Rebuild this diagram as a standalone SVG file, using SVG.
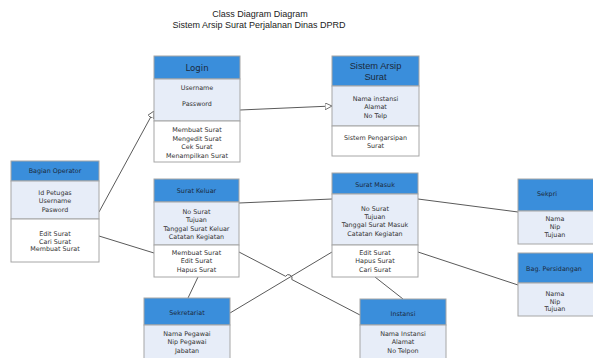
<svg xmlns="http://www.w3.org/2000/svg" width="593" height="358" viewBox="0 0 593 358">
<style>
.hd{fill:#3a8edb;stroke:#a6a6a6;stroke-width:1}
.at{fill:#e7edf8;stroke:#a6a6a6;stroke-width:1}
.op{fill:#ffffff;stroke:#a6a6a6;stroke-width:1}
text{font-family:"DejaVu Sans",Verdana,sans-serif;font-size:6.4px;fill:#333333;text-anchor:middle}
.ht{fill:#1b2a3c}
.big{font-size:8.6px}
.ar{font-family:"Liberation Sans",Arial,sans-serif;font-size:9.3px}
.title{font-family:"Liberation Sans",Arial,sans-serif;font-size:9px;fill:#222}
.ln{fill:none;stroke:#5a5a5a;stroke-width:1}
</style>
<defs>
<marker id="tri" viewBox="0 0 10 10" refX="10" refY="5" markerWidth="7" markerHeight="7" orient="auto" markerUnits="userSpaceOnUse">
<path d="M0,0 L10,5 L0,10 Z" fill="#ffffff" stroke="#5a5a5a" stroke-width="1.2"/>
</marker>
</defs>
<rect width="593" height="358" fill="#ffffff"/>
<text class="title" x="260" y="17">Class Diagram Diagram</text>
<text class="title" x="259" y="28">Sistem Arsip Surat Perjalanan Dinas DPRD</text>

<g id="connectors">
<line class="ln" x1="99" y1="212" x2="154" y2="111" marker-end="url(#tri)"/>
<line class="ln" x1="240" y1="110" x2="332" y2="106" marker-end="url(#tri)"/>
<line class="ln" x1="239" y1="203" x2="332" y2="199"/>
<line class="ln" x1="99" y1="236" x2="154" y2="253"/>
<path class="ln" d="M239,252 L285.6,276.3 A3.5,3.5 0 0 1 291.8,279.5 L360,315"/>
<line class="ln" x1="198" y1="277" x2="188" y2="298"/>
<line class="ln" x1="230" y1="313" x2="332" y2="252"/>
<line class="ln" x1="375" y1="277" x2="403" y2="299"/>
<line class="ln" x1="418" y1="199" x2="518" y2="212"/>
<line class="ln" x1="418" y1="252" x2="518" y2="285"/>
</g>

<g id="login">
<rect class="hd" x="154" y="56" width="86" height="23"/>
<rect class="at" x="154" y="79" width="86" height="42"/>
<rect class="op" x="154" y="121" width="86" height="41"/>
<text class="ht big" x="197" y="71">Login</text>
<text x="197" y="90">Username</text>
<text x="197" y="106">Password</text>
<text x="197" y="132">Membuat Surat</text>
<text x="197" y="140.5">Mengedit Surat</text>
<text x="197" y="149">Cek Surat</text>
<text x="197" y="157.5">Menampilkan Surat</text>
</g>

<g id="sistem-arsip-surat">
<rect class="hd" x="332" y="56" width="87" height="30"/>
<rect class="at" x="332" y="86" width="87" height="40"/>
<rect class="op" x="332" y="126" width="87" height="30"/>
<text class="ht ar" x="375.5" y="69">Sistem Arsip</text>
<text class="ht ar" x="375.5" y="79.5">Surat</text>
<text x="375.5" y="100.5">Nama instansi</text>
<text x="375.5" y="109">Alamat</text>
<text x="375.5" y="117.5">No Telp</text>
<text x="375.5" y="139.5">Sistem Pengarsipan</text>
<text x="375.5" y="148">Surat</text>
</g>

<g id="bagian-operator">
<rect class="hd" x="11" y="161" width="88" height="20"/>
<rect class="at" x="11" y="181" width="88" height="38"/>
<rect class="op" x="11" y="219" width="88" height="43"/>
<text class="ht" x="55" y="172.5">Bagian Operator</text>
<text x="55" y="194.5">Id Petugas</text>
<text x="55" y="203">Username</text>
<text x="55" y="211.5">Pasword</text>
<text x="55" y="235.5">Edit Surat</text>
<text x="55" y="243.5">Cari Surat</text>
<text x="55" y="251">Membuat Surat</text>
</g>

<g id="surat-keluar">
<rect class="hd" x="154" y="179" width="85" height="23"/>
<rect class="at" x="154" y="202" width="85" height="43"/>
<rect class="op" x="154" y="245" width="85" height="32"/>
<text class="ht" x="196.5" y="192.5">Surat Keluar</text>
<text x="196.5" y="213.5">No Surat</text>
<text x="196.5" y="222">Tujuan</text>
<text x="196.5" y="230.5">Tanggal Surat Keluar</text>
<text x="196.5" y="239">Catatan Kegiatan</text>
<text x="196.5" y="254.5">Membuat Surat</text>
<text x="196.5" y="263">Edit Surat</text>
<text x="196.5" y="271.5">Hapus Surat</text>
</g>

<g id="surat-masuk">
<rect class="hd" x="332" y="173" width="86" height="21"/>
<rect class="at" x="332" y="194" width="86" height="51"/>
<rect class="op" x="332" y="245" width="86" height="32"/>
<text class="ht" x="375" y="187">Surat Masuk</text>
<text x="375" y="210.5">No Surat</text>
<text x="375" y="219">Tujuan</text>
<text x="375" y="227">Tanggal Surat Masuk</text>
<text x="375" y="235.5">Catatan Kegiatan</text>
<text x="375" y="254.5">Edit Surat</text>
<text x="375" y="263">Hapus Surat</text>
<text x="375" y="271.5">Cari Surat</text>
</g>

<g id="sekpri">
<rect class="hd" x="518" y="179" width="80" height="32"/>
<rect class="at" x="518" y="211" width="80" height="33"/>
<text class="ht" x="547" y="195.5">Sekpri</text>
<text x="555" y="220.5">Nama</text>
<text x="555" y="229">Nip</text>
<text x="555" y="237">Tujuan</text>
</g>

<g id="bag-persidangan">
<rect class="hd" x="518" y="253" width="80" height="30"/>
<rect class="at" x="518" y="283" width="80" height="33"/>
<text class="ht" x="554" y="271">Bag. Persidangan</text>
<text x="555" y="295.5">Nama</text>
<text x="555" y="303.5">Nip</text>
<text x="555" y="311">Tujuan</text>
</g>

<g id="sekretariat">
<rect class="hd" x="144" y="298" width="86" height="27"/>
<rect class="at" x="144" y="325" width="86" height="40"/>
<text class="ht" x="187" y="315">Sekretariat</text>
<text x="187" y="335.5">Nama Pegawai</text>
<text x="187" y="344">Nip Pegawai</text>
<text x="187" y="353">Jabatan</text>
</g>

<g id="instansi">
<rect class="hd" x="360" y="299" width="86" height="26"/>
<rect class="at" x="360" y="325" width="86" height="40"/>
<text class="ht" x="403" y="316">Instansi</text>
<text x="403" y="335.5">Nama Instansi</text>
<text x="403" y="344">Alamat</text>
<text x="403" y="353">No Telpon</text>
</g>
</svg>
